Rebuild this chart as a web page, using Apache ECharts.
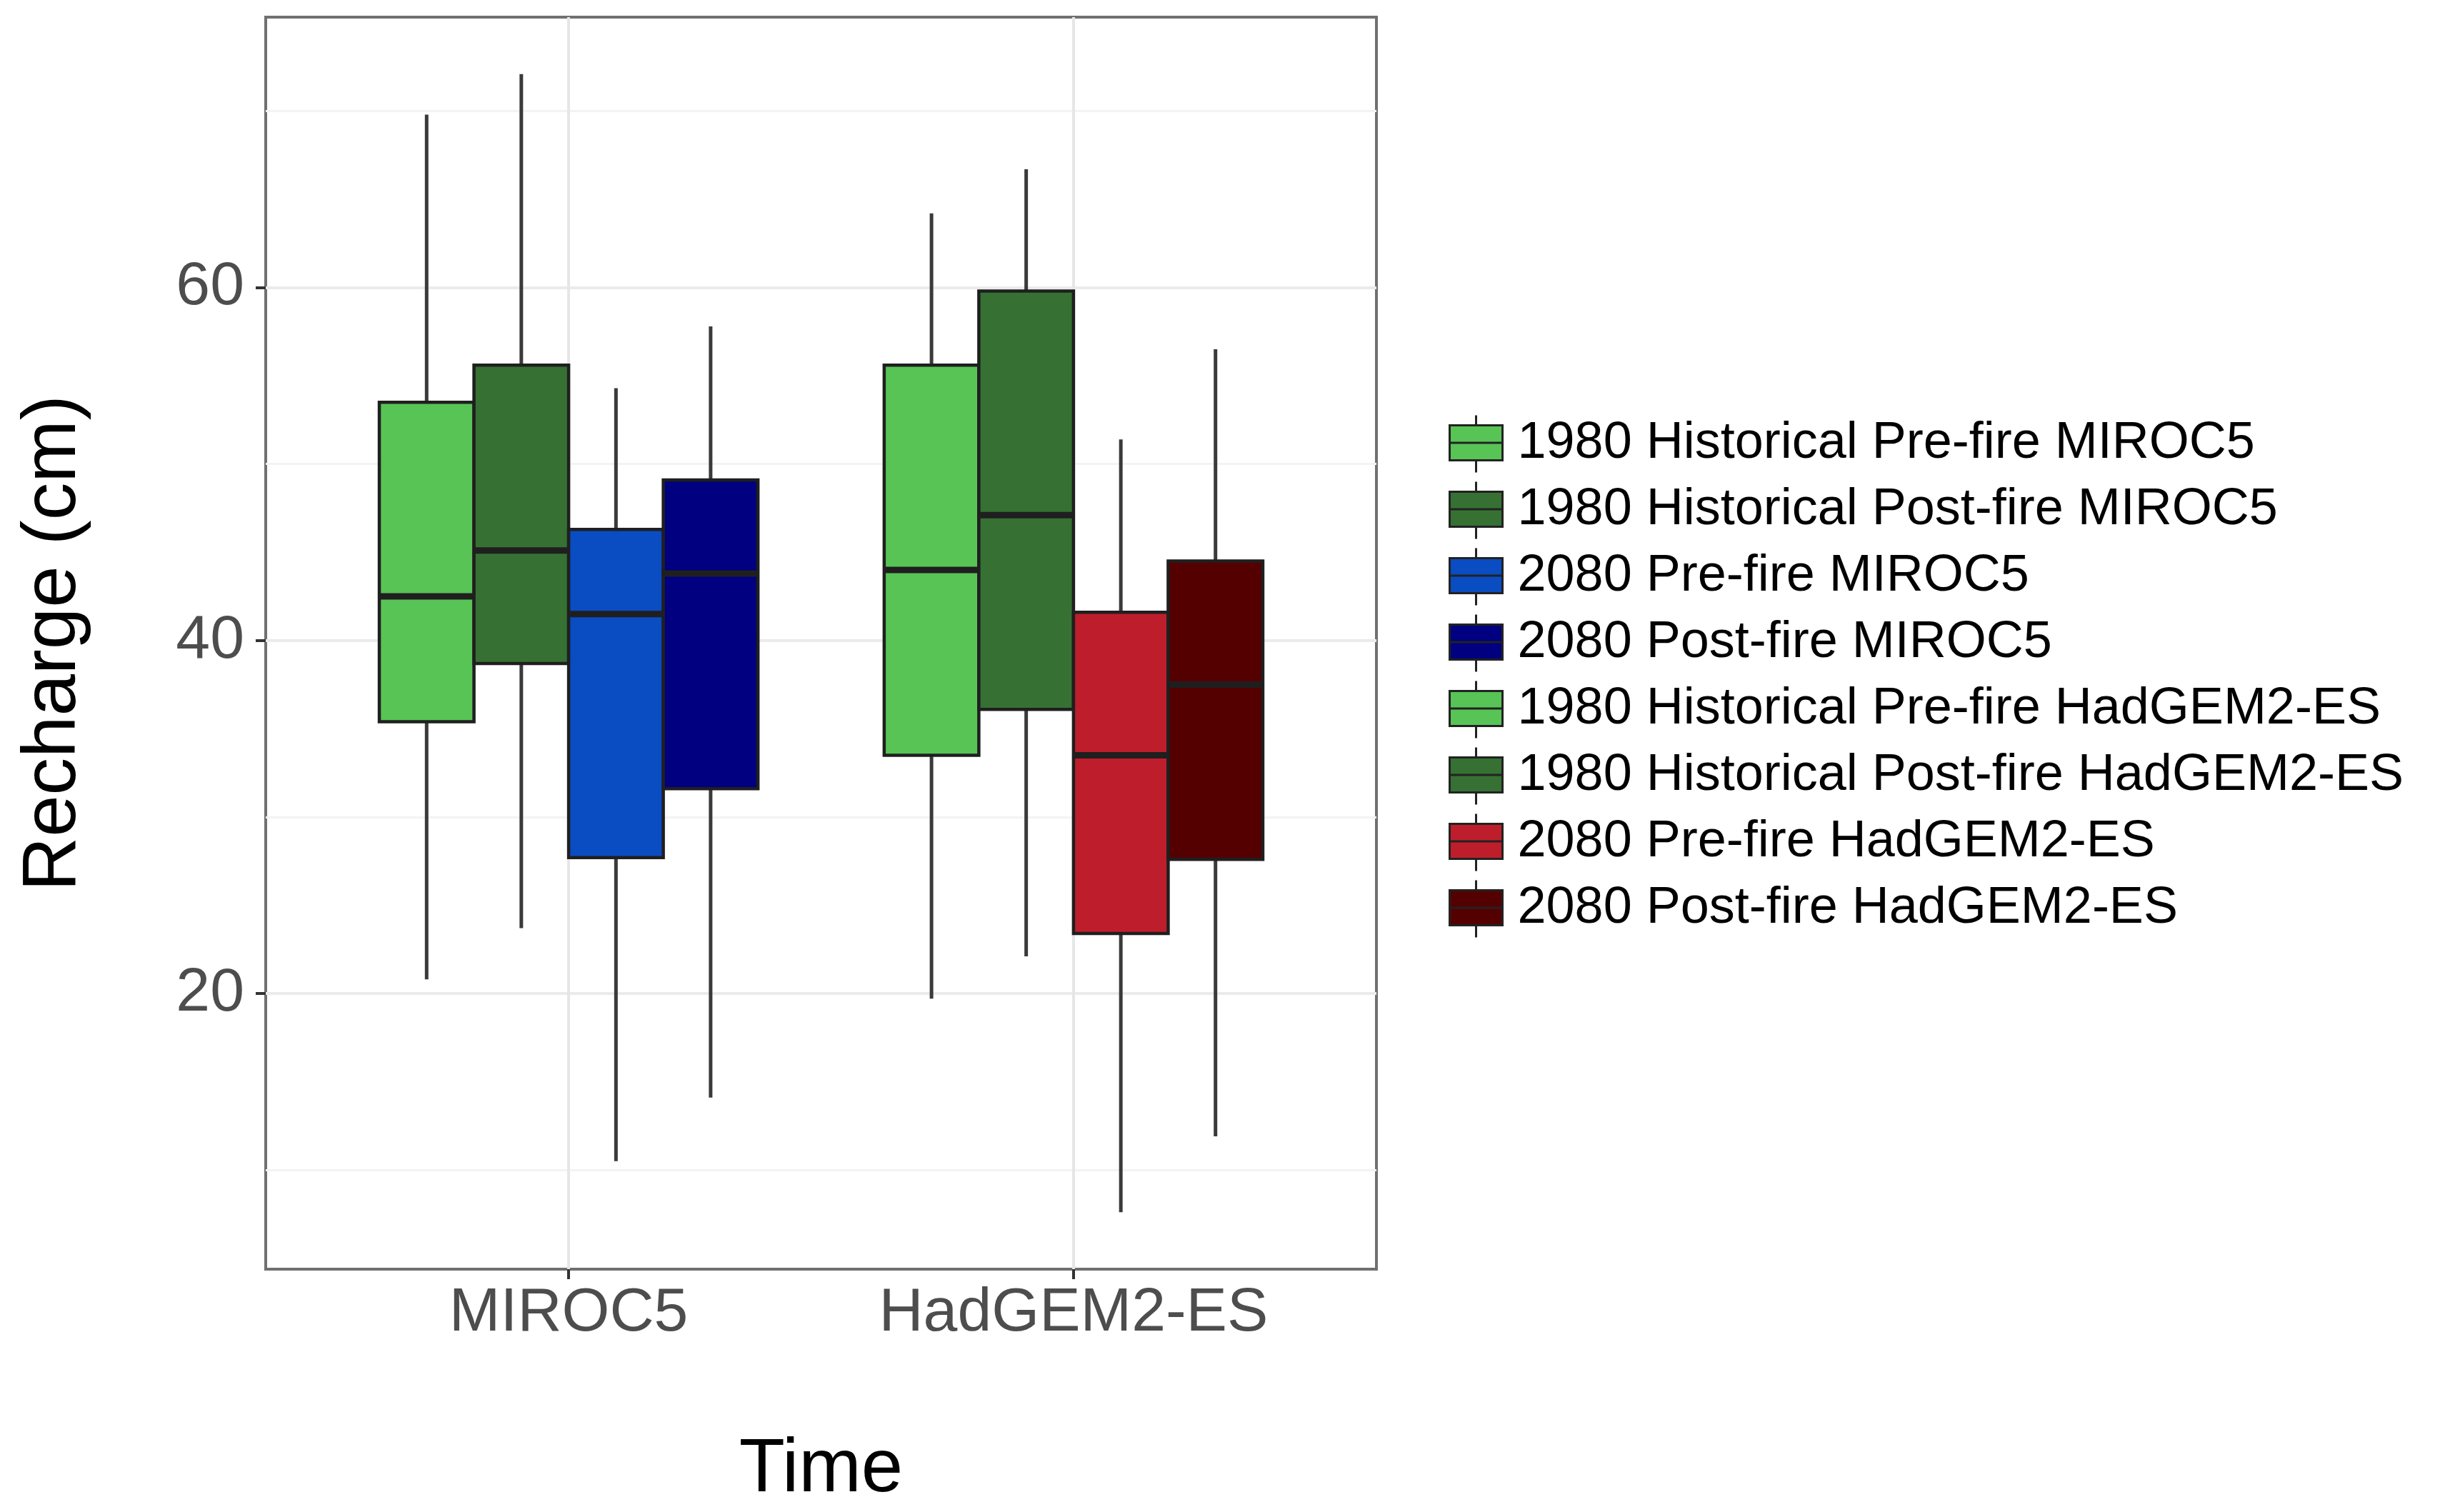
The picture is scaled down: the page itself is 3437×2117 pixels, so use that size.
<!DOCTYPE html>
<html>
<head>
<meta charset="utf-8">
<script src="https://cdn.jsdelivr.net/npm/echarts@6/dist/echarts.min.js"></script>
<style>
  html, body { margin: 0; padding: 0; background: #fff; }
  #chart { width: 3437px; height: 2117px; }
</style>
</head>
<body>
<div id="chart"></div>
<script>
// ---- data ----
const categories = ['MIROC5', 'HadGEM2-ES'];
const seriesNames = [
  '1980 Historical Pre-fire MIROC5',
  '1980 Historical Post-fire MIROC5',
  '2080 Pre-fire MIROC5',
  '2080 Post-fire MIROC5',
  '1980 Historical Pre-fire HadGEM2-ES',
  '1980 Historical Post-fire HadGEM2-ES',
  '2080 Pre-fire HadGEM2-ES',
  '2080 Post-fire HadGEM2-ES'
];
const seriesCategory = [0, 0, 0, 0, 1, 1, 1, 1];
const whiskerLow  = [20.8, 23.7, 10.5, 14.1, 19.7, 22.1, 7.6, 11.9];
const quartile1   = [35.4, 38.7, 27.7, 31.6, 33.5, 36.1, 23.4, 27.6];
const medians     = [42.5, 45.1, 41.5, 43.8, 44.0, 47.1, 33.5, 37.5];
const quartile3   = [53.5, 55.6, 46.3, 49.1, 55.6, 59.8, 41.6, 44.5];
const whiskerHigh = [69.8, 72.1, 54.3, 57.8, 64.2, 66.7, 51.4, 56.5];
const colors = ['#57C455', '#367133', '#0A4CC2', '#000080', '#57C455', '#367133', '#BE1E2B', '#550000'];
const yTicks = [20, 40, 60];
const xTicks = [1, 2];

// ---- layout helpers ----
const FONT = 'Liberation Sans, Arial, Helvetica, sans-serif';
const dodgeWidth = 0.75;
const slotsPerGroup = 4;
const slotW = dodgeWidth / slotsPerGroup;
const dataMin = Math.min.apply(null, whiskerLow);
const dataMax = Math.max.apply(null, whiskerHigh);
const span = dataMax - dataMin;
const yMin = dataMin - 0.05 * span;
const yMax = dataMax + 0.05 * span;

function renderItem(params, api) {
  const slot = params.seriesIndex % slotsPerGroup;
  const xc = api.value(0) - dodgeWidth / 2 + slotW * (slot + 0.5);
  const left = api.coord([xc - slotW / 2, api.value(3)])[0];
  const right = api.coord([xc + slotW / 2, api.value(3)])[0];
  const cx = api.coord([xc, api.value(3)])[0];
  const yLow = api.coord([xc, api.value(1)])[1];
  const yQ1 = api.coord([xc, api.value(2)])[1];
  const yMed = api.coord([xc, api.value(3)])[1];
  const yQ3 = api.coord([xc, api.value(4)])[1];
  const yHigh = api.coord([xc, api.value(5)])[1];
  const wStyle = { stroke: '#3a3a3a', lineWidth: 5 };
  return {
    type: 'group',
    children: [
      { type: 'line', shape: { x1: cx, y1: yLow, x2: cx, y2: yQ1 }, style: wStyle },
      { type: 'line', shape: { x1: cx, y1: yQ3, x2: cx, y2: yHigh }, style: wStyle },
      { type: 'rect', shape: { x: left, y: yQ3, width: right - left, height: yQ1 - yQ3 },
        style: { fill: api.visual('color'), stroke: '#1f1f1f', lineWidth: 4.5 } },
      { type: 'line', shape: { x1: left, y1: yMed, x2: right, y2: yMed },
        style: { stroke: '#1f1f1f', lineWidth: 9 } }
    ]
  };
}

const series = seriesNames.map(function (name, i) {
  return {
    name: name,
    type: 'custom',
    renderItem: renderItem,
    itemStyle: { color: colors[i] },
    encode: { x: 0, y: [1, 2, 3, 4, 5] },
    data: [[seriesCategory[i] + 1, whiskerLow[i], quartile1[i], medians[i], quartile3[i], whiskerHigh[i]]],
    z: 3
  };
});

const chart = echarts.init(document.getElementById('chart'), null, { renderer: 'canvas' });
chart.setOption({
  animation: false,
  backgroundColor: '#fff',
  grid: {
    left: 372, right: 1510, top: 24, bottom: 340,
    show: true, borderColor: '#707070', borderWidth: 4, backgroundColor: 'transparent'
  },
  xAxis: {
    type: 'value',
    min: 0.4, max: 2.6,
    name: 'Time',
    nameLocation: 'middle',
    nameGap: 230,
    nameTextStyle: { fontSize: 105, fontFamily: FONT, color: '#000' },
    axisLine: { show: false },
    axisTick: { show: true, customValues: xTicks, length: 14, lineStyle: { color: '#333', width: 4 } },
    axisLabel: {
      customValues: xTicks,
      margin: 19,
      fontSize: 86, fontFamily: FONT, color: '#4D4D4D',
      formatter: function (v) { return categories[Math.round(v) - 1] || ''; }
    },
    splitLine: { show: true, lineStyle: { color: '#E6E6E6', width: 4 } },
    minorSplitLine: { show: false }
  },
  yAxis: {
    type: 'value',
    min: yMin, max: yMax,
    minInterval: 20, maxInterval: 20,
    name: 'Recharge (cm)',
    nameLocation: 'middle',
    nameGap: 243,
    nameTextStyle: { fontSize: 105, fontFamily: FONT, color: '#000' },
    axisLine: { show: false },
    axisTick: { show: true, customValues: yTicks, length: 14, lineStyle: { color: '#333', width: 4 } },
    axisLabel: {
      customValues: yTicks,
      margin: 30,
      fontSize: 86, fontFamily: FONT, color: '#4D4D4D',
      formatter: function (v) { return String(Math.round(v)); }
    },
    splitLine: { show: true, lineStyle: { color: '#EBEBEB', width: 4 } },
    minorTick: { show: false, splitNumber: 2 },
    minorSplitLine: { show: true, lineStyle: { color: '#F3F3F3', width: 3 } }
  },
  legend: {
    orient: 'vertical',
    left: 2028, top: 580,
    padding: 0,
    itemWidth: 74, itemHeight: 80, itemGap: 10,
    icon: 'path://M0,14L74,14L74,63L0,63Z M0,38.5L74,38.5 M37,0L37,14 M37,63L37,80',
    itemStyle: { borderColor: '#222', borderWidth: 3 },
    selectedMode: false,
    textStyle: { fontSize: 72, fontFamily: FONT, color: '#000', lineHeight: 80, padding: [0, 0, 0, 16] },
    data: seriesNames
  },
  series: series
});
</script>
</body>
</html>
